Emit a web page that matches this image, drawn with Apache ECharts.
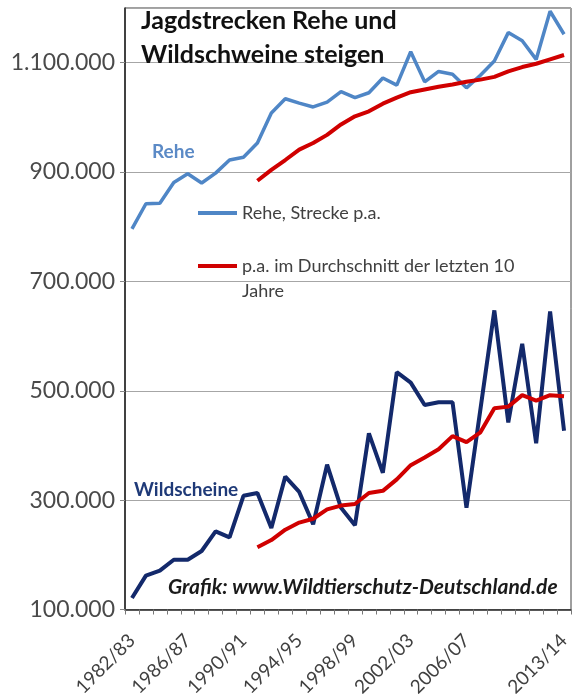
<!DOCTYPE html>
<html>
<head>
<meta charset="utf-8">
<script src="https://cdn.jsdelivr.net/npm/echarts@6/dist/echarts.min.js"></script>
<style>
html,body{margin:0;padding:0;background:#fff;}
#chart{width:580px;height:695px;}
</style>
</head>
<body>
<div id="chart"></div>
<script>
const categories = ['1982/83','1983/84','1984/85','1985/86','1986/87','1987/88','1988/89','1989/90',
  '1990/91','1991/92','1992/93','1993/94','1994/95','1995/96','1996/97','1997/98',
  '1998/99','1999/00','2000/01','2001/02','2002/03','2003/04','2004/05','2005/06',
  '2006/07','2007/08','2008/09','2009/10','2010/11','2011/12','2012/13','2013/14'];
const shownLabels = ['1982/83','1986/87','1990/91','1994/95','1998/99','2002/03','2006/07','2013/14'];
const reheValues = [796000, 842000, 843000, 881000, 897000, 880000, 898000, 922000, 927000, 953000,
  1008000, 1034000, 1026000, 1019000, 1028000, 1047000, 1036000, 1045000, 1072000, 1059000,
  1120000, 1065000, 1084000, 1079000, 1054000, 1077000, 1103000, 1155000, 1140000, 1106000,
  1194000, 1152000];
const reheAvg = [null, null, null, null, null, null, null, null, null, 884000,
  904000, 922000, 941000, 953000, 968000, 987000, 1002000, 1011000, 1025000, 1036000,
  1046000, 1051000, 1056000, 1060000, 1065000, 1069000, 1074000, 1084000, 1092000, 1098000,
  1106000, 1114000];
const wildValues = [121000, 162000, 171000, 191000, 191000, 207000, 243000, 232000, 308000, 313000,
  249000, 343000, 315000, 256000, 365000, 286000, 254000, 422000, 350000, 534000,
  515000, 474000, 479000, 479000, 286000, 466000, 647000, 442000, 586000, 404000,
  645000, 427000];
const wildAvg = [null, null, null, null, null, null, null, null, null, 214000,
  227000, 246000, 259000, 266000, 283000, 290000, 293000, 313000, 317000, 338000,
  364000, 378000, 393000, 417000, 406000, 424000, 468000, 471000, 492000, 482000,
  492000, 490000];
const yMin = 100000, yMax = 1200000, yStep = 200000;

const nameRehe = 'Rehe, Strecke p.a.';
const nameAvg = 'p.a. im Durchschnitt der letzten 10 Jahre';
const nameWild = 'Wildschweine, Strecke p.a.';

const FONT = 'Lato, "Open Sans", sans-serif';
const fmt = v => String(v).replace(/\B(?=(\d{3})+(?!\d))/g, '.');

const chart = echarts.init(document.getElementById('chart'), null, {renderer: 'canvas'});
chart.setOption({
  animation: false,
  backgroundColor: '#ffffff',
  title: [
    {text: 'Jagdstrecken Rehe und\nWildschweine steigen', left: 141, top: 4, padding: 0,
     textStyle: {fontFamily: FONT, fontSize: 25, fontWeight: 'bold', color: '#111', lineHeight: 34}},
    {text: 'Rehe', left: 152, top: 141, padding: 0,
     textStyle: {fontFamily: FONT, fontSize: 19, fontWeight: 'bold', color: '#5b8ac6', lineHeight: 22}},
    {text: 'Wildscheine', left: 134, top: 479, padding: 0,
     textStyle: {fontFamily: FONT, fontSize: 19, fontWeight: 'bold', color: '#1f3a78', lineHeight: 22}},
    {text: 'Grafik: www.Wildtierschutz-Deutschland.de', left: 168, top: 576, padding: 0,
     textStyle: {fontFamily: FONT, fontSize: 21, fontWeight: 'bold', fontStyle: 'italic', color: '#1a1a1a', lineHeight: 22}}
  ],
  legend: [
    {data: [nameRehe], left: 198, top: 201, padding: 0, icon: 'rect', itemWidth: 39, itemHeight: 4,
     itemGap: 0, selectedMode: false,
     textStyle: {fontFamily: FONT, fontSize: 18, color: '#404040', lineHeight: 24}},
    {data: [nameAvg], left: 198, top: 228.5, padding: 0, icon: 'rect', itemWidth: 39, itemHeight: 4,
     itemGap: 0, selectedMode: false,
     formatter: n => ' \np.a. im Durchschnitt der letzten 10\nJahre',
     textStyle: {fontFamily: FONT, fontSize: 18, color: '#404040', lineHeight: 25}}
  ],
  grid: {left: 125, right: 9, top: 8, bottom: 85.5, containLabel: false, outerBoundsMode: 'none',
         show: true, borderColor: '#404040', borderWidth: 1, backgroundColor: 'transparent'},
  xAxis: {
    type: 'category', data: categories, boundaryGap: true,
    axisLine: {lineStyle: {color: '#222', width: 1.5}},
    axisTick: {show: true, interval: 0, length: 5, lineStyle: {color: '#777'}},
    axisLabel: {
      interval: (i, v) => shownLabels.indexOf(v) >= 0,
      rotate: 45, margin: 28, fontFamily: FONT, fontSize: 19, color: '#404040'
    },
    splitLine: {show: false}
  },
  yAxis: {
    type: 'value', min: yMin, max: yMax, interval: yStep,
    axisLine: {show: true, lineStyle: {color: '#222', width: 1.5}},
    axisTick: {show: true, length: 5, lineStyle: {color: '#888'}},
    axisLabel: {formatter: fmt, showMaxLabel: false, margin: 10, fontFamily: FONT, fontSize: 23, color: '#4a4a4a'},
    splitLine: {show: true, lineStyle: {color: '#a6a6a6', width: 1}}
  },
  series: [
    {name: nameRehe, type: 'line', data: reheValues, showSymbol: false, symbol: 'none',
     lineStyle: {color: '#4f86c6', width: 3.5}, itemStyle: {color: '#4f86c6'}, z: 3},
    {name: nameWild, type: 'line', data: wildValues, showSymbol: false, symbol: 'none',
     lineStyle: {color: '#13296b', width: 4}, itemStyle: {color: '#13296b'}, z: 3},
    {name: nameAvg, type: 'line', data: reheAvg, showSymbol: false, symbol: 'none',
     lineStyle: {color: '#d00000', width: 4}, itemStyle: {color: '#d00000'}, z: 4},
    {name: nameAvg, type: 'line', data: wildAvg, showSymbol: false, symbol: 'none',
     lineStyle: {color: '#d00000', width: 4}, itemStyle: {color: '#d00000'}, z: 4}
  ]
});
</script>
</body>
</html>
